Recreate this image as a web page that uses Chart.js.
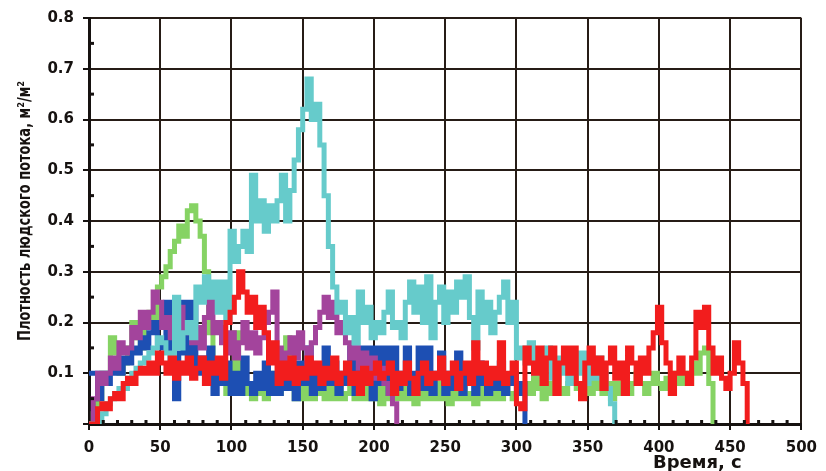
<!DOCTYPE html>
<html>
<head>
<meta charset="utf-8">
<script src="https://cdn.jsdelivr.net/npm/chart.js@4/dist/chart.umd.min.js"></script>
<style>
  html, body { margin: 0; padding: 0; background: #fff; }
  #wrap { width: 826px; height: 471px; }
</style>
</head>
<body>
<div id="wrap"><canvas id="flow"></canvas></div>
<script>
// flow density vs time, five runs, one value every 3 s starting at t = 0
const timeStep = 3;

const blueDensity = [
  0.10, 0.10, 0.05, 0.10, 0.08, 0.10, 0.12, 0.10, 0.13, 0.12, 0.15, 0.14, 0.17, 0.15, 0.18, 0.20, 0.16, 0.15, 0.24, 0.12,
  0.05, 0.14, 0.24, 0.12, 0.24, 0.10, 0.13, 0.10, 0.15, 0.06, 0.10, 0.08, 0.12, 0.06, 0.10, 0.06, 0.13, 0.08, 0.06, 0.10,
  0.07, 0.12, 0.06, 0.10, 0.06, 0.13, 0.07, 0.10, 0.05, 0.12, 0.08, 0.15, 0.06, 0.10, 0.07, 0.15, 0.08, 0.12, 0.06, 0.10,
  0.08, 0.15, 0.06, 0.15, 0.08, 0.15, 0.05, 0.15, 0.08, 0.15, 0.06, 0.15, 0.07, 0.10, 0.15, 0.06, 0.10, 0.15, 0.07, 0.15,
  0.06, 0.10, 0.14, 0.06, 0.10, 0.07, 0.14, 0.06, 0.10, 0.08, 0.06, 0.12, 0.08, 0.06, 0.10, 0.07, 0.12, 0.06, 0.08, 0.10,
  0.06, 0.08, 0
];

const greenDensity = [
  0, 0.02, 0.05, 0.10, 0.10, 0.17, 0.14, 0.10, 0.12, 0.15, 0.20, 0.17, 0.15, 0.20, 0.22, 0.20, 0.27, 0.29, 0.31, 0.34,
  0.36, 0.39, 0.37, 0.42, 0.43, 0.40, 0.37, 0.30, 0.18, 0.10, 0.08, 0.10, 0.06, 0.10, 0.18, 0.10, 0.06, 0.08, 0.05, 0.08,
  0.06, 0.05, 0.10, 0.07, 0.06, 0.10, 0.17, 0.08, 0.05, 0.07, 0.05, 0.08, 0.05, 0.06, 0.10, 0.05, 0.07, 0.05, 0.09, 0.05,
  0.06, 0.08, 0.05, 0.07, 0.05, 0.10, 0.05, 0.07, 0.04, 0.08, 0.05, 0.07, 0.05, 0.08, 0.05, 0.06, 0.04, 0.08, 0.05, 0.07,
  0.05, 0.08, 0.05, 0.06, 0.04, 0.07, 0.05, 0.08, 0.05, 0.06, 0.04, 0.08, 0.05, 0.07, 0.05, 0.06, 0.05, 0.08, 0.06, 0.05,
  0.07, 0.06, 0.08, 0.06, 0.10, 0.07, 0.05, 0.08, 0.06, 0.10, 0.07, 0.06, 0.08, 0.10, 0.07, 0.06, 0.08, 0.06, 0.10, 0.07,
  0.06, 0.08, 0.05, 0.08, 0.06, 0.10, 0.06, 0.08, 0.10, 0.08, 0.06, 0.08, 0.10, 0.08, 0.07, 0.09, 0.08, 0.10, 0.08, 0.10,
  0.08, 0.12, 0.10, 0.14, 0.15, 0.08, 0
];

const cyanDensity = [
  0, 0, 0, 0.02, 0.04, 0.05, 0.06, 0.07, 0.07, 0.09, 0.10, 0.11, 0.12, 0.13, 0.14, 0.15, 0.17, 0.16, 0.14, 0.12,
  0.25, 0.15, 0.18, 0.20, 0.17, 0.27, 0.24, 0.29, 0.25, 0.28, 0.22, 0.28, 0.20, 0.38, 0.32, 0.35, 0.38, 0.34, 0.49, 0.40,
  0.44, 0.38, 0.43, 0.40, 0.44, 0.49, 0.40, 0.46, 0.52, 0.58, 0.62, 0.68, 0.60, 0.63, 0.55, 0.45, 0.35, 0.27, 0.22, 0.24,
  0.18, 0.21, 0.16, 0.26, 0.20, 0.23, 0.17, 0.20, 0.18, 0.22, 0.26, 0.19, 0.20, 0.17, 0.24, 0.28, 0.22, 0.27, 0.20, 0.29,
  0.17, 0.24, 0.27, 0.20, 0.26, 0.22, 0.28, 0.25, 0.29, 0.21, 0.15, 0.26, 0.20, 0.24, 0.18, 0.22, 0.25, 0.28, 0.20, 0.24,
  0.13, 0.15, 0.12, 0.16, 0.10, 0.14, 0.11, 0.15, 0.09, 0.13, 0.10, 0.14, 0.08, 0.13, 0.10, 0.14, 0.08, 0.12, 0.09, 0.13,
  0.10, 0.07, 0.04, 0
];

const redDensity = [
  0, 0, 0.03, 0.04, 0.03, 0.05, 0.06, 0.05, 0.08, 0.09, 0.08, 0.10, 0.11, 0.10, 0.12, 0.10, 0.14, 0.12, 0.10, 0.13,
  0.09, 0.12, 0.10, 0.13, 0.09, 0.11, 0.13, 0.08, 0.12, 0.10, 0.13, 0.09, 0.20, 0.22, 0.25, 0.30, 0.26, 0.22, 0.25, 0.19,
  0.23, 0.18, 0.12, 0.16, 0.08, 0.12, 0.09, 0.13, 0.08, 0.11, 0.09, 0.13, 0.10, 0.12, 0.08, 0.11, 0.09, 0.13, 0.08, 0.10,
  0.12, 0.08, 0.10, 0.06, 0.11, 0.08, 0.10, 0.12, 0.09, 0.10, 0.12, 0.06, 0.10, 0.08, 0.12, 0.09, 0.06, 0.10, 0.12, 0.08,
  0.10, 0.09, 0.13, 0.08, 0.10, 0.12, 0.07, 0.10, 0.12, 0.08, 0.16, 0.10, 0.12, 0.08, 0.11, 0.09, 0.16, 0.08, 0.10, 0.12,
  0.04, 0.03, 0.15, 0.12, 0.10, 0.15, 0.08, 0.13, 0.15, 0.06, 0.12, 0.15, 0.10, 0.15, 0.08, 0.05, 0.12, 0.15, 0.10, 0.13,
  0.07, 0.12, 0.15, 0.09, 0.12, 0.06, 0.15, 0.12, 0.08, 0.13, 0.10, 0.15, 0.18, 0.23, 0.16, 0.12, 0.06, 0.10, 0.13, 0.10,
  0.08, 0.13, 0.22, 0.19, 0.23, 0.15, 0.10, 0.13, 0.09, 0.07, 0.10, 0.16, 0.12, 0.08, 0
];

const magentaDensity = [
  0, 0.05, 0.10, 0.08, 0.10, 0.13, 0.11, 0.16, 0.14, 0.15, 0.19, 0.17, 0.22, 0.19, 0.22, 0.26, 0.24, 0.19, 0.21, 0.17,
  0.20, 0.23, 0.18, 0.20, 0.16, 0.19, 0.15, 0.21, 0.25, 0.18, 0.20, 0.16, 0.14, 0.18, 0.13, 0.16, 0.20, 0.15, 0.18, 0.14,
  0.17, 0.20, 0.22, 0.26, 0.15, 0.10, 0.14, 0.17, 0.13, 0.18, 0.15, 0.12, 0.16, 0.19, 0.22, 0.25, 0.21, 0.24, 0.18, 0.20,
  0.16, 0.13, 0.15, 0.11, 0.14, 0.10, 0.13, 0.09, 0.11, 0.08, 0.06, 0.04, 0
];

const xTitle = 'Время, с';
const yTitle = 'Плотность людского потока, м²/м²';

const inkColor = '#161210';
const gridColor = '#261c16';

function toPoints(values) {
  return values.map((v, i) => ({ x: i * timeStep, y: v }));
}

function series(values, color) {
  return {
    data: toPoints(values),
    borderColor: color,
    backgroundColor: color,
    borderWidth: 5,
    stepped: true,
    pointRadius: 0,
    fill: false,
    borderJoinStyle: 'miter',
  };
}

// minor tick marks on both axes + the two axis titles
const axisExtras = {
  id: 'axisExtras',
  afterDraw(chart) {
    const { ctx, scales: { x, y }, chartArea } = chart;
    ctx.save();
    ctx.fillStyle = inkColor;
    for (let t = 10; t < 500; t += 10) {
      if (t % 50 === 0) continue;
      const px = x.getPixelForValue(t);
      ctx.fillRect(px - 1.5, chartArea.bottom - 4, 3, 4);
    }
    for (let v = 0.05; v < 0.8; v += 0.1) {
      const py = y.getPixelForValue(v);
      ctx.fillRect(chartArea.left, py - 1.5, 5, 3);
    }
    ctx.font = 'bold 18px "DejaVu Sans"';
    ctx.textAlign = 'center';
    ctx.textBaseline = 'alphabetic';
    ctx.fillText(xTitle, x.getPixelForValue(427), 468);
    ctx.translate(25, 211);
    ctx.rotate(-Math.PI / 2);
    ctx.scale(1, 1.35);
    ctx.font = 'bold 13px "DejaVu Sans"';
    ctx.textBaseline = 'middle';
    ctx.fillText(yTitle, 0, 0);
    ctx.restore();
  }
};

new Chart(document.getElementById('flow'), {
  type: 'line',
  data: {
    datasets: [
      series(redDensity, '#f21d1d'),
      series(cyanDensity, '#66cbcb'),
      series(magentaDensity, '#a3449c'),
      series(blueDensity, '#1d4fb3'),
      series(greenDensity, '#86d364'),
    ]
  },
  options: {
    responsive: true,
    maintainAspectRatio: false,
    animation: false,
    layout: { padding: { top: 18, right: 17, left: 0, bottom: 0 } },
    plugins: { legend: { display: false }, tooltip: { enabled: false } },
    scales: {
      x: {
        type: 'linear',
        min: 0, max: 500,
        ticks: { stepSize: 50, color: inkColor, padding: 9, font: { family: 'DejaVu Sans', size: 15, weight: 'bold' } },
        grid: { color: gridColor, lineWidth: 2, tickLength: 6, tickColor: inkColor },
        border: { color: inkColor, width: 3 },
        afterFit(s) { s.height = 47; },
      },
      y: {
        min: 0, max: 0.8,
        ticks: {
          stepSize: 0.1, color: inkColor, padding: 9,
          font: { family: 'DejaVu Sans', size: 15, weight: 'bold' },
          callback: v => (v === 0 ? '' : v.toFixed(1)),
        },
        grid: { color: gridColor, lineWidth: 2, tickLength: 6, tickColor: inkColor },
        border: { color: inkColor, width: 3 },
        afterFit(s) { s.width = 89; },
      }
    }
  },
  plugins: [axisExtras]
});
</script>
</body>
</html>
